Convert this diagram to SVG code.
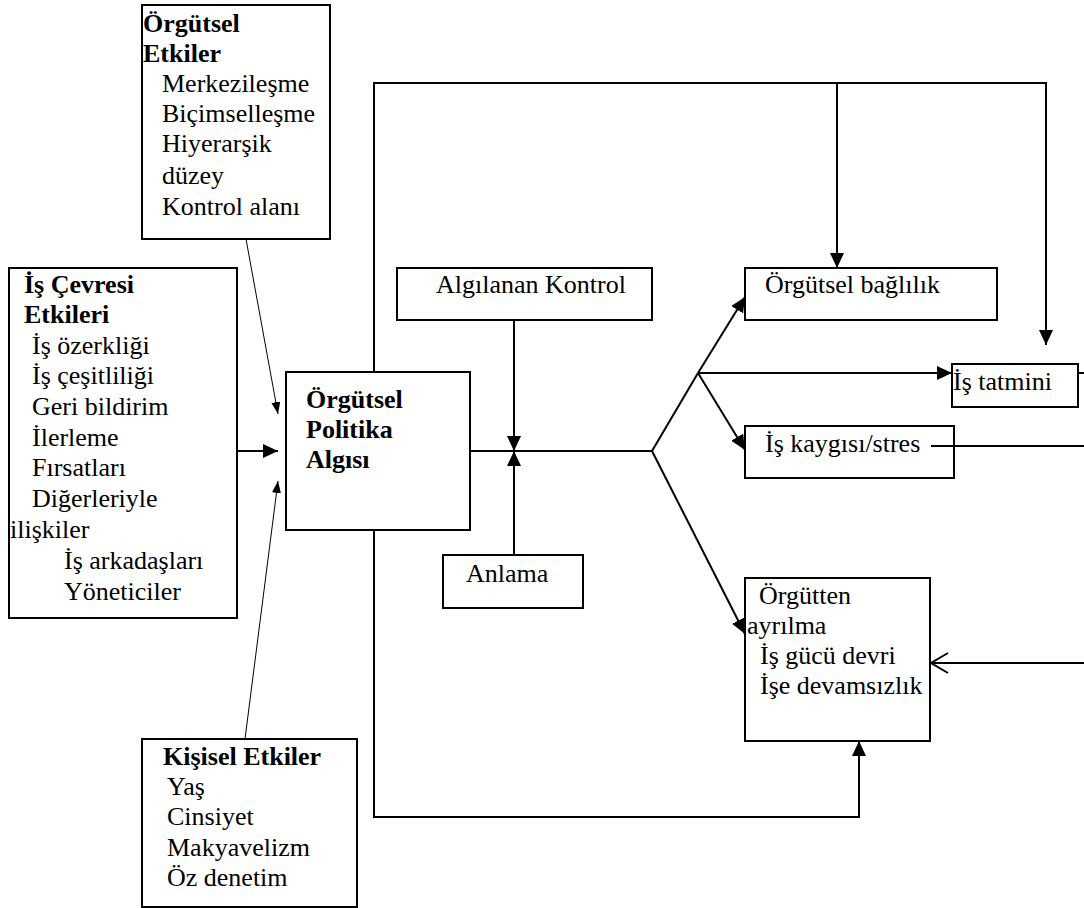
<svg xmlns="http://www.w3.org/2000/svg" width="1084" height="908" viewBox="0 0 1084 908">
<style>
.box{fill:#fff;stroke:#000;stroke-width:2}
.ln{fill:none;stroke:#000;stroke-width:2}
.thin{fill:none;stroke:#000;stroke-width:1}
text{font-family:"Liberation Serif","Times New Roman",serif;font-size:26px;fill:#000}
.b{font-weight:bold}
</style>
<defs>
<marker id="ah" markerUnits="userSpaceOnUse" markerWidth="16" markerHeight="14" refX="15" refY="7" orient="auto">
<path d="M0,0 L15,7 L0,14 z" fill="#000"/>
</marker>
<marker id="ahs" markerUnits="userSpaceOnUse" markerWidth="13" markerHeight="9" refX="12" refY="4.5" orient="auto">
<path d="M0,0 L12,4.5 L0,9 z" fill="#000"/>
</marker>
<marker id="aho" markerUnits="userSpaceOnUse" markerWidth="20" markerHeight="24" refX="18" refY="11" orient="auto">
<path d="M1,1 L18,11 L1,21" fill="none" stroke="#000" stroke-width="2"/>
</marker>
</defs>
<rect width="1084" height="908" fill="#fff"/>

<g id="connectors">
<path class="ln" d="M374,372 V83 H1046 V345" marker-end="url(#ah)"/>
<path class="ln" d="M837,83 V268" marker-end="url(#ah)"/>
<path class="ln" d="M374,530 V817 H859 V741" marker-end="url(#ah)"/>
<path class="thin" d="M246,239 L278,414" marker-end="url(#ahs)"/>
<path class="thin" d="M245,739 L278,481" marker-end="url(#ahs)"/>
<path class="ln" d="M237,451 H278" marker-end="url(#ah)"/>
<path class="ln" d="M470,451 H652"/>
<path class="ln" d="M514,320 V451" marker-end="url(#ah)"/>
<path class="ln" d="M514,555 V451" marker-end="url(#ah)"/>
<path class="ln" d="M652,451 L698,373"/>
<path class="ln" d="M698,373 L745,297" marker-end="url(#ah)"/>
<path class="ln" d="M698,373 H952" marker-end="url(#ah)"/>
<path class="ln" d="M698,373 L745,450" marker-end="url(#ah)"/>
<path class="ln" d="M652,451 L745,634" marker-end="url(#ah)"/>
<path class="ln" d="M1078,373 H1084"/>
<path class="ln" d="M1084,663 H931" marker-end="url(#aho)"/>
</g>

<g id="orgutsel-etkiler">
<rect class="box" x="142" y="5" width="188" height="234"/>
<text class="b" x="143" y="32">Örgütsel</text>
<text class="b" x="143" y="62">Etkiler</text>
<text x="162" y="92">Merkezileşme</text>
<text x="162" y="122">Biçimselleşme</text>
<text x="162" y="152">Hiyerarşik</text>
<text x="162" y="184">düzey</text>
<text x="162" y="215">Kontrol alanı</text>
</g>

<g id="is-cevresi">
<rect class="box" x="9" y="268" width="228" height="350"/>
<text class="b" x="24" y="293">İş Çevresi</text>
<text class="b" x="24" y="323">Etkileri</text>
<text x="32" y="354">İş özerkliği</text>
<text x="32" y="384">İş çeşitliliği</text>
<text x="32" y="415">Geri bildirim</text>
<text x="32" y="446">İlerleme</text>
<text x="32" y="476">Fırsatları</text>
<text x="32" y="507">Diğerleriyle</text>
<text x="10" y="538">ilişkiler</text>
<text x="64" y="569">İş arkadaşları</text>
<text x="64" y="600">Yöneticiler</text>
</g>

<g id="kisisel-etkiler">
<rect class="box" x="142" y="739" width="215" height="168"/>
<text class="b" x="163" y="765">Kişisel Etkiler</text>
<text x="167" y="795">Yaş</text>
<text x="167" y="825">Cinsiyet</text>
<text x="167" y="856">Makyavelizm</text>
<text x="167" y="886">Öz denetim</text>
</g>

<g id="politika-algisi">
<rect class="box" x="286" y="372" width="184" height="158"/>
<text class="b" x="306" y="408">Örgütsel</text>
<text class="b" x="306" y="438">Politika</text>
<text class="b" x="306" y="468">Algısı</text>
</g>

<g id="algilanan-kontrol">
<rect class="box" x="397" y="268" width="255" height="52"/>
<text x="436" y="293">Algılanan Kontrol</text>
</g>

<g id="anlama">
<rect class="box" x="443" y="555" width="140" height="53"/>
<text x="466" y="582">Anlama</text>
</g>

<g id="orgutsel-baglilik">
<rect class="box" x="745" y="268" width="252" height="52"/>
<text x="765" y="293">Örgütsel bağlılık</text>
</g>

<g id="is-tatmini">
<rect class="box" x="952" y="364" width="126" height="43"/>
<text x="953" y="390">İş tatmini</text>
</g>

<g id="is-kaygisi">
<rect class="box" x="745" y="426" width="209" height="52"/>
<text x="765" y="452">İş kaygısı/stres</text>
<path class="ln" d="M931,446 H1084"/>
</g>

<g id="orgutten-ayrilma">
<rect class="box" x="745" y="578" width="185" height="163"/>
<text x="759" y="604">Örgütten</text>
<text x="747" y="634">ayrılma</text>
<text x="760" y="664">İş gücü devri</text>
<text x="760" y="694">İşe devamsızlık</text>
</g>
</svg>
